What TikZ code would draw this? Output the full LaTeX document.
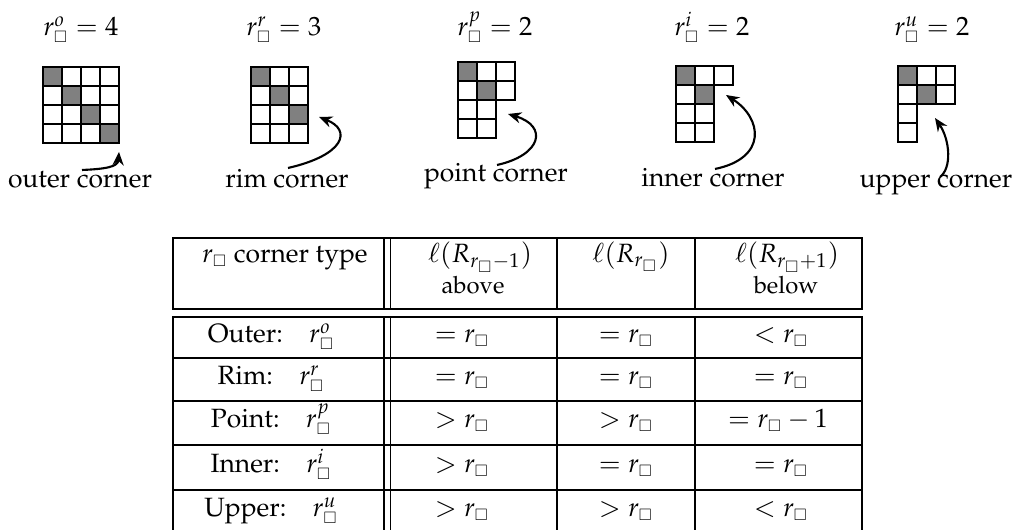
\documentclass[tikz,border=0pt]{standalone}
\usepackage[T1]{fontenc}
\usepackage{amssymb}
\usepackage{mathpazo}
\usetikzlibrary{arrows.meta}
\newcommand{\sq}{{\scriptscriptstyle\square}}
\definecolor{shadegray}{RGB}{128,128,128}
\begin{document}
\begin{tikzpicture}[x=0.378pt,y=-0.378pt,
  cellbox/.style={draw=black,line width=0.45pt},
  darkcell/.style={cellbox,fill=shadegray},
  arr/.style={-{Stealth[length=5pt,width=4.2pt]},line width=0.8pt},
  tline/.style={line width=0.45pt},
  txt/.style={anchor=base,inner sep=0pt},
  ]
\clip (0,0) rectangle (1014,530);
\fill[white] (0,0) rectangle (1014,530);

% ---------- titles ----------
\node[txt] (t1) at (81,36) {$r^o_\sq=4$};
\node[txt] (t2) at (284,36) {$r^r_\sq=3$};
\node[txt] (t3) at (495,36) {$r^p_\sq=2$};
\node[txt] (t4) at (712,36) {$r^i_\sq=2$};
\node[txt] (t5) at (932,36) {$r^u_\sq=2$};

% ---------- diagram 1: outer ----------
\begin{scope}[shift={(43,67)}]
  \foreach \c in {0,...,3} \foreach \r in {0,...,3}
    \draw[cellbox] (\c*19,\r*19) rectangle ++(19,19);
  \foreach \c in {0,...,3}
    \draw[darkcell] (\c*19,\c*19) rectangle ++(19,19);
\end{scope}
% ---------- diagram 2: rim ----------
\begin{scope}[shift={(251,67)}]
  \foreach \c in {0,...,2} \foreach \r in {0,...,3}
    \draw[cellbox] (\c*19,\r*19) rectangle ++(19,19);
  \foreach \c in {0,...,2}
    \draw[darkcell] (\c*19,\c*19) rectangle ++(19,19);
\end{scope}
% ---------- diagram 3: point ----------
\begin{scope}[shift={(458,62)}]
  \foreach \c/\r in {0/0,1/0,2/0,0/1,1/1,2/1,0/2,1/2,0/3,1/3}
    \draw[cellbox] (\c*19,\r*19) rectangle ++(19,19);
  \foreach \c in {0,1}
    \draw[darkcell] (\c*19,\c*19) rectangle ++(19,19);
\end{scope}
% ---------- diagram 4: inner ----------
\begin{scope}[shift={(676,66)}]
  \foreach \c/\r in {0/0,1/0,2/0,0/1,1/1,0/2,1/2,0/3,1/3}
    \draw[cellbox] (\c*19,\r*19) rectangle ++(19,19);
  \foreach \c in {0,1}
    \draw[darkcell] (\c*19,\c*19) rectangle ++(19,19);
\end{scope}
% ---------- diagram 5: upper ----------
\begin{scope}[shift={(898,66)}]
  \foreach \c/\r in {0/0,1/0,2/0,0/1,1/1,2/1,0/2,0/3}
    \draw[cellbox] (\c*19,\r*19) rectangle ++(19,19);
  \foreach \c in {0,1}
    \draw[darkcell] (\c*19,\c*19) rectangle ++(19,19);
\end{scope}

% ---------- labels ----------
\node[txt] (l1) at (80,188) {outer corner};
\node[txt] (l2) at (287,188) {rim corner};
\node[txt] (l3) at (496,182) {point corner};
\node[txt] (l4) at (713,187) {inner corner};
\node[txt] (l5) at (936,188) {upper corner};

% ---------- arrows ----------
\coordinate (s1) at (82,170);  \coordinate (e1) at (119,152);
\coordinate (s2) at (288,168); \coordinate (e2) at (319,117);
\coordinate (s3) at (497,165); \coordinate (e3) at (508,114);
\coordinate (s4) at (715,169); \coordinate (e4) at (726,95);
\coordinate (s5) at (940,177); \coordinate (e5) at (935,118);
\draw[arr] (s1) .. controls (105,169) and (118,167) .. (e1);
\draw[arr] (s2) .. controls (345,155) and (352,130) .. (e2);
\draw[arr] (s3) .. controls (542,155) and (548,126) .. (e3);
\draw[arr] (s4) .. controls (768,158) and (762,118) .. (e4);
\draw[arr] (s5) .. controls (952,168) and (950,140) .. (e5);

% ---------- table ----------
% header box
\draw[tline] (173,238) rectangle (862,309);
\draw[tline] (384,238) -- (384,309);
\draw[tline] (390.5,238) -- (390.5,309);
\draw[tline] (557,238) -- (557,309);
\draw[tline] (695,238) -- (695,309);
% body
\draw[tline] (173,540) -- (173,317) -- (862,317) -- (862,540);
\foreach \x in {384,390.5,557,695}
  \draw[tline] (\x,317) -- (\x,540);
\foreach \y in {358,401,445,490}
  \draw[tline] (173,\y) -- (862,\y);

% header text
\node[txt] (h1) at (285,263) {$r_\sq$ corner type};
\node[txt] (h2) at (480,263) {$\ell(R_{r_\sq-1})$};
\node[txt] (h2b) at (473,294) {\small above};
\node[txt] (h3) at (631,263) {$\ell(R_{r_\sq})$};
\node[txt] (h4) at (787,263) {$\ell(R_{r_\sq+1})$};
\node[txt] (h4b) at (786,294) {\small below};

% body rows
\node[txt] (a1) at (271,343) {Outer:\quad $r^o_\sq$};
\node[txt] (a2) at (271,385) {Rim:\quad $r^r_\sq$};
\node[txt] (a3) at (271,428) {Point:\quad $r^p_\sq$};
\node[txt] (a4) at (271,473) {Inner:\quad $r^i_\sq$};
\node[txt] (a5) at (271,517) {Upper:\quad $r^u_\sq$};

\node[txt] (b1) at (462,343) {$=r_\sq$};
\node[txt] (b2) at (462,385) {$=r_\sq$};
\node[txt] (b3) at (462,428) {$>r_\sq$};
\node[txt] (b4) at (462,473) {$>r_\sq$};
\node[txt] (b5) at (462,517) {$>r_\sq$};

\node[txt] (c1) at (626,343) {$=r_\sq$};
\node[txt] (c2) at (626,385) {$=r_\sq$};
\node[txt] (c3) at (626,428) {$>r_\sq$};
\node[txt] (c4) at (626,473) {$=r_\sq$};
\node[txt] (c5) at (626,517) {$>r_\sq$};

\node[txt] (d1) at (781,343) {$<r_\sq$};
\node[txt] (d2) at (781,385) {$=r_\sq$};
\node[txt] (d3) at (778,428) {$=r_\sq-1$};
\node[txt] (d4) at (781,473) {$=r_\sq$};
\node[txt] (d5) at (781,517) {$<r_\sq$};
\end{tikzpicture}
\end{document}
